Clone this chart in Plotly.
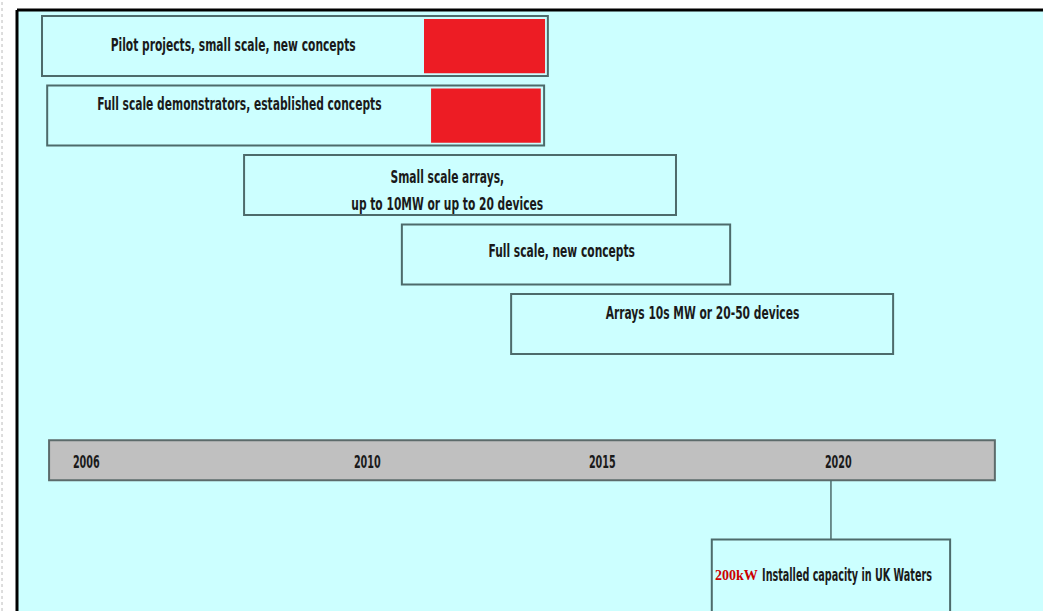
import json
import plotly.graph_objects as go

# Etapas do roteiro (anos, eixo x em anos)
stage_labels = [
    "Pilot projects, small scale, new concepts",
    "Full scale demonstrators, established concepts",
    "Small scale arrays,\nup to 10MW or up to 20 devices",
    "Full scale, new concepts",
    "Arrays 10s MW or 20-50 devices",
]
stage_start = [2003.10, 2003.21, 2007.39, 2010.74, 2013.06]
stage_end = [2013.84, 2013.76, 2016.56, 2017.71, 2021.17]
stage_row = [0, 1, 2, 3, 4]

# Parte vermelha (já realizada) das duas primeiras etapas
done_row = [0, 1]
done_start = [2011.21, 2011.36]
done_end = [2013.78, 2013.69]

# Linha do tempo
timeline_start = 2003.25
timeline_end = 2023.33
tick_labels = ["2006", "2010", "2015", "2020"]
# o original comprime 2006 na ponta esquerda da barra
tick_pos = [2004.05, 2010, 2015, 2020]

# Marco de capacidade instalada
milestone_year = 2019.85
milestone_start = 2017.32
milestone_end = 2022.38
milestone_value = "200kW"
milestone_text = "Installed capacity in UK Waters"

cores = {
    'fundo': '#CCFFFF',
    'borda': '#4d6b6b',
    'vermelho': '#ED1C24',
    'cinza': '#C0C0C0',
    'texto': '#1a1a1a',
}
fonte = "Liberation Sans Narrow, Arial Narrow, DejaVu Sans Condensed, sans-serif"
linha_tempo = 5.96  # posição vertical da barra (em linhas)

fig = go.Figure()

# Caixas das etapas
fig.add_trace(go.Bar(
    orientation='h',
    y=stage_row,
    base=stage_start,
    x=[e - s for s, e in zip(stage_start, stage_end)],
    width=0.863,
    marker=dict(color=cores['fundo'], line=dict(color=cores['borda'], width=2)),
    hoverinfo='skip',
))

# Blocos vermelhos
fig.add_trace(go.Bar(
    orientation='h',
    y=done_row,
    base=done_start,
    x=[e - s for s, e in zip(done_start, done_end)],
    width=0.78,
    marker=dict(color=cores['vermelho'], line=dict(width=0)),
    hoverinfo='skip',
))

# Barra da linha do tempo
fig.add_trace(go.Bar(
    orientation='h',
    y=[linha_tempo],
    base=[timeline_start],
    x=[timeline_end - timeline_start],
    width=0.576,
    marker=dict(color=cores['cinza'], line=dict(color='#5c6b6b', width=2)),
    hoverinfo='skip',
))

# Caixa do marco (sai pela borda inferior)
fig.add_trace(go.Bar(
    orientation='h',
    y=[7.75],
    base=[milestone_start],
    x=[milestone_end - milestone_start],
    width=1.3,
    marker=dict(color=cores['fundo'], line=dict(color=cores['borda'], width=2)),
    hoverinfo='skip',
))

# Conector entre a linha do tempo e o marco
fig.add_trace(go.Scatter(
    x=[milestone_year, milestone_year],
    y=[linha_tempo + 0.288, 7.1],
    mode='lines',
    line=dict(color=cores['borda'], width=1.5),
    hoverinfo='skip',
))

# Textos das etapas
desloc_x = [0, 0, -13, -4, 0]
desloc_y = [1, 12, -5, 4, 11]
for i, label in enumerate(stage_labels):
    if i < len(done_start):
        xc = (stage_start[i] + done_start[i]) / 2
    else:
        xc = (stage_start[i] + stage_end[i]) / 2
    linhas = label.split("\n")
    for j, linha in enumerate(linhas):
        off = (len(linhas) - 1) / 2 - j
        fig.add_annotation(
            x=xc, y=stage_row[i], text=linha, showarrow=False,
            xshift=desloc_x[i], yshift=desloc_y[i] + off * 27,
            font=dict(family=fonte, size=17, color=cores['texto'], weight='bold'),
        )

# Rótulos dos anos
for lab, pos in zip(tick_labels, tick_pos):
    fig.add_annotation(
        x=pos, y=linha_tempo, text=lab, showarrow=False, yshift=-2,
        font=dict(family=fonte, size=17, color=cores['texto'], weight='bold'),
    )

# Texto do marco
fig.add_annotation(
    x=milestone_start, y=7.61, text=milestone_value, showarrow=False,
    xanchor='left', xshift=1,
    font=dict(family="Liberation Serif, serif", size=14, color='#CC0000', weight='bold'),
)
fig.add_annotation(
    x=milestone_start, y=7.61, text=milestone_text, showarrow=False,
    xshift=135,
    font=dict(family=fonte, size=17, color=cores['texto'], weight='bold'),
)

# Moldura preta e linha pontilhada à esquerda
fig.add_shape(type='line', xref='paper', yref='paper', x0=0, x1=0, y0=0, y1=1,
              line=dict(color='black', width=3))
fig.add_shape(type='line', xref='paper', yref='paper', x0=0, x1=1, y0=1, y1=1,
              line=dict(color='black', width=3))
fig.add_shape(type='line', xref='paper', yref='paper', x0=-0.0146, x1=-0.0146, y0=0, y1=1.02,
              line=dict(color='#bbbbbb', width=1, dash='dot'))

fig.update_layout(
    width=1043,
    height=611,
    margin=dict(l=17, r=0, t=10, b=0),
    barmode='overlay',
    showlegend=False,
    paper_bgcolor='white',
    plot_bgcolor=cores['fundo'],
    xaxis=dict(range=[2002.569, 2024.352], visible=False, fixedrange=True),
    yaxis=dict(range=[8.128, -0.519], visible=False, fixedrange=True),
)

# A fonte original é uma sans "narrow": comprime o texto na horizontal
mais_estreitos = json.dumps(tick_labels + [milestone_text])
post = """
document.body.style.margin = '0';
var estreitos = %s;
function comprimir() {
  document.querySelectorAll('text.annotation-text').forEach(function (t) {
    var txt = t.textContent;
    if (txt === '%s') return;
    var s = estreitos.indexOf(txt) >= 0 ? 0.63 : 0.70;
    var x = parseFloat(t.getAttribute('x')) || 0;
    t.setAttribute('transform', 'translate(' + (x * (1 - s)) + ',0) scale(' + s + ',1)');
  });
}
var gd = document.getElementById('{plot_id}');
gd.on('plotly_afterplot', comprimir);
setTimeout(comprimir, 0);
comprimir();
""" % (mais_estreitos, milestone_value)

fig.write_html("out.html", post_script=post, config={'displayModeBar': False})
